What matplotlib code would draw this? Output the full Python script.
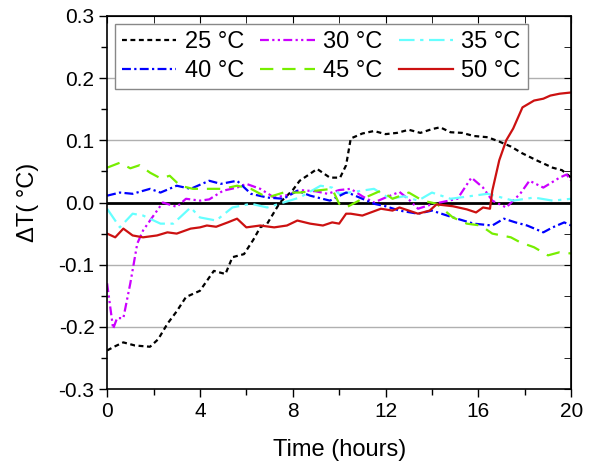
import matplotlib.pyplot as plt
import numpy as np

plt.rcParams['font.family'] = ['Liberation Sans', 'DejaVu Sans']

# readings
t25 = [0, 0.3, 0.7, 1.2, 1.85, 2.2, 2.6, 3.0, 3.4, 4.0, 4.6, 5.1, 5.4, 5.9, 6.3, 6.6, 6.9,
       7.45, 8.0, 8.3, 8.7, 9.05, 9.6, 10.04, 10.3, 10.5, 11.0, 11.5, 12.0, 12.5, 13.0,
       13.5, 14.0, 14.35, 14.8, 15.3, 15.8, 16.4, 16.9, 17.4, 17.9, 18.5, 19.2, 19.6, 20]
dT25 = [-0.238, -0.232, -0.225, -0.23, -0.232, -0.22, -0.195, -0.175, -0.152, -0.142,
        -0.11, -0.115, -0.088, -0.083, -0.06, -0.04, -0.034, 0.0, 0.02, 0.035, 0.045,
        0.054, 0.04, 0.04, 0.06, 0.103, 0.111, 0.115, 0.11, 0.112, 0.117, 0.112, 0.118,
        0.121, 0.113, 0.112, 0.107, 0.105, 0.098, 0.09, 0.079, 0.068, 0.056, 0.052, 0.04]

t30 = [0, 0.26, 0.43, 0.7, 1.0, 1.3, 1.55, 1.85, 2.4, 3.0, 3.4, 4.0, 4.4, 5.0, 5.6, 6.0,
       6.6, 7.2, 7.8, 8.3, 9.0, 9.5, 10.0, 10.5, 11.0, 11.5, 12.0, 12.6, 13.0, 13.4, 13.9,
       14.35, 15.1, 15.7, 16.2, 16.6, 17.2, 17.8, 18.2, 18.8, 19.5, 19.8, 20]
dT30 = [-0.13, -0.203, -0.186, -0.186, -0.13, -0.066, -0.045, -0.029, 0.0, -0.007, 0.006,
        0.003, 0.005, 0.019, 0.024, 0.03, 0.022, 0.008, 0.012, 0.02, 0.018, 0.014, 0.02,
        0.022, 0.01, 0.0, 0.008, 0.017, 0.005, -0.01, -0.004, 0.0, 0.006, 0.04, 0.024,
        0.003, -0.008, 0.014, 0.035, 0.024, 0.04, 0.045, 0.035]

t35 = [0, 0.55, 1.1, 1.55, 2.3, 2.85, 3.6, 4.0, 4.7, 5.4, 6.2, 6.9, 7.6, 8.3, 9.2, 9.7,
       10.0, 10.8, 11.5, 12.2, 12.8, 13.4, 14.0, 14.8, 15.8, 16.4, 17.0, 17.5, 18.4, 19.2, 20]
dT35 = [-0.01, -0.04, -0.018, -0.021, -0.034, -0.034, -0.008, -0.024, -0.029, -0.008,
        -0.002, -0.008, 0.0, 0.008, 0.027, 0.024, 0.014, 0.018, 0.022, 0.006, 0.01, 0.003,
        0.016, 0.006, 0.011, 0.014, 0.008, 0.003, 0.008, 0.003, 0.006]

t40 = [0, 0.55, 1.1, 1.85, 2.3, 3.0, 3.6, 4.4, 4.9, 5.6, 6.2, 6.9, 7.6, 8.2, 8.75, 9.6,
       10.3, 10.5, 11.5, 12.0, 12.6, 13.4, 14.0, 14.9, 15.8, 16.6, 17.1, 17.6, 18.1, 18.8,
       19.2, 19.7, 20]
dT40 = [0.011, 0.016, 0.014, 0.022, 0.016, 0.027, 0.022, 0.035, 0.03, 0.035, 0.014, 0.008,
        0.006, 0.019, 0.011, 0.003, 0.016, 0.014, -0.002, -0.006, -0.013, -0.018, -0.013,
        -0.024, -0.034, -0.037, -0.026, -0.032, -0.037, -0.048, -0.04, -0.032, -0.037]

t45 = [0, 0.55, 1.0, 1.4, 1.85, 2.3, 2.7, 3.15, 3.7, 4.3, 5.0, 5.6, 6.2, 6.9, 7.6, 8.3,
       9.0, 9.7, 10.0, 10.3, 11.0, 11.8, 12.3, 13.0, 13.6, 14.2, 14.9, 15.5, 16.1, 16.6,
       17.4, 17.8, 18.4, 19.0, 19.5, 20]
dT45 = [0.056, 0.064, 0.055, 0.06, 0.048, 0.039, 0.043, 0.027, 0.022, 0.022, 0.022, 0.027,
        0.022, 0.008, 0.016, 0.016, 0.019, 0.022, -0.002, -0.008, 0.006, 0.019, 0.006,
        0.016, 0.003, -0.002, -0.024, -0.034, -0.037, -0.05, -0.056, -0.064, -0.072,
        -0.085, -0.08, -0.082]

t50 = [0, 0.35, 0.7, 1.1, 1.55, 2.15, 2.6, 3.0, 3.6, 4.0, 4.3, 4.7, 5.2, 5.6, 6.0, 6.6,
       7.2, 7.75, 8.2, 8.75, 9.3, 9.7, 10.0, 10.3, 10.5, 11.0, 11.8, 12.3, 12.6, 13.4,
       13.9, 14.2, 14.9, 15.5, 15.9, 16.2, 16.5, 16.6, 16.9, 17.2, 17.5, 17.9, 18.4, 18.8,
       19.1, 19.5, 20]
dT50 = [-0.05, -0.056, -0.042, -0.053, -0.056, -0.053, -0.048, -0.05, -0.042, -0.04,
        -0.037, -0.039, -0.032, -0.026, -0.04, -0.037, -0.04, -0.037, -0.029, -0.034,
        -0.037, -0.032, -0.034, -0.018, -0.018, -0.021, -0.01, -0.013, -0.008, -0.018,
        -0.013, -0.003, -0.006, -0.011, -0.016, -0.008, -0.01, 0.019, 0.068, 0.1, 0.119,
        0.153, 0.164, 0.167, 0.172, 0.175, 0.177]

fig = plt.figure(figsize=(5.95, 4.65), dpi=100)
ax = fig.add_axes([0.18, 0.1634, 0.78, 0.8022])

ax.axhline(0, color='black', lw=2, zorder=1)
for g in [-0.2, -0.1, 0.1, 0.2]:
    ax.axhline(g, color='#b0b0b0', lw=1, zorder=0)

l25, = ax.plot(t25, dT25, color='black', lw=1.6, dashes=(2.2, 1.6), label='25 °C')
l30, = ax.plot(t30, dT30, color='#cc00ff', lw=1.6, dashes=(4, 1.5, 1, 1.5, 1, 1.5), label='30 °C')
l35, = ax.plot(t35, dT35, color='#66ffff', lw=1.6, dashes=(7, 2.5, 1.5, 2.5), label='35 °C')
l40, = ax.plot(t40, dT40, color='#0000ff', lw=1.6, dashes=(4, 1.5, 1, 1.5), label='40 °C')
l45, = ax.plot(t45, dT45, color='#77ee00', lw=1.6, dashes=(6, 4), label='45 °C')
l50, = ax.plot(t50, dT50, color='#cc1111', lw=1.6, label='50 °C')

ax.set_xlim(0, 20)
ax.set_ylim(-0.3, 0.3)
ax.set_xticks(np.arange(0, 21, 4))
ax.set_xticks(np.arange(2, 20, 4), minor=True)
ax.set_yticks(np.arange(-0.3, 0.31, 0.1))
ax.set_yticks(np.arange(-0.25, 0.3, 0.1), minor=True)
ax.set_yticklabels([f'{v:.1f}' for v in np.arange(-0.3, 0.31, 0.1)])
ax.tick_params(which='both', direction='out', labelsize=15, width=1)
ax.tick_params(which='major', length=6, pad=3)
ax.tick_params(which='minor', length=4)
for s in ax.spines.values():
    s.set_linewidth(1.2)

# inward ticks on the top and right sides
top = ax.secondary_xaxis('top')
top.set_xticks(np.arange(0, 21, 4))
top.set_xticks(np.arange(2, 20, 4), minor=True)
top.tick_params(which='both', direction='in', labeltop=False, length=5)
right = ax.secondary_yaxis('right')
right.set_yticks(np.arange(-0.3, 0.31, 0.1))
right.set_yticks(np.arange(-0.25, 0.3, 0.1), minor=True)
right.tick_params(which='both', direction='in', labelright=False, length=5)

ax.set_xlabel('Time (hours)', fontsize=17, labelpad=13)
ax.set_ylabel('ΔT( °C)', fontsize=17, labelpad=14)

leg = ax.legend([l25, l40, l30, l45, l35, l50],
                ['25 °C', '40 °C', '30 °C', '45 °C', '35 °C', '50 °C'],
                ncol=3, loc='upper left', bbox_to_anchor=(0.017, 0.979),
                fontsize=17, handlelength=2.3, handletextpad=0.35, columnspacing=0.7,
                labelspacing=0.3, borderpad=0.3, borderaxespad=0, fancybox=False,
                framealpha=1)
leg.get_frame().set_edgecolor('#888888')
leg.get_frame().set_linewidth(1)

fig.savefig('out.png', dpi=100)
